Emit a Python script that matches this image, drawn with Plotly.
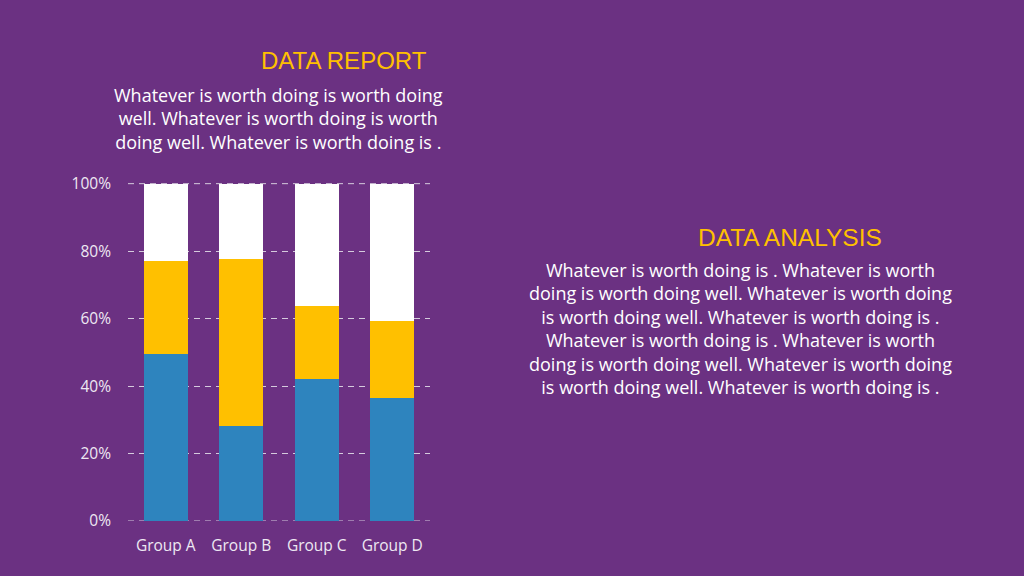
import plotly.graph_objects as go

# chart data (default-style sample values, stacked and normalised to 100%)
groups = ['Group A', 'Group B', 'Group C', 'Group D']
series_1 = [4.3, 2.5, 3.5, 4.5]
series_2 = [2.4, 4.4, 1.8, 2.8]
series_3 = [2.0, 2.0, 3.0, 5.0]

bg = '#6B3182'
grid = '#D5CBDD'
body = 'Whatever is worth doing is worth doing<br>well. Whatever is worth doing is worth<br>doing well. Whatever is worth doing is .'
body2 = ('Whatever is worth doing is . Whatever is worth<br>'
         'doing is worth doing well. Whatever is worth doing<br>'
         'is worth doing well. Whatever is worth doing is .<br>'
         'Whatever is worth doing is . Whatever is worth<br>'
         'doing is worth doing well. Whatever is worth doing<br>'
         'is worth doing well. Whatever is worth doing is .')

# plot area in pixels
L, R, T, B = 128, 430, 183, 521


def px(x, y):
    # page pixels -> paper coords
    return (x - L) / (R - L), (B - y) / (B - T)


fig = go.Figure()
fig.add_trace(go.Bar(x=groups, y=series_1, marker_color='#2E84BE', marker_line_width=0))
fig.add_trace(go.Bar(x=groups, y=series_2, marker_color='#FFC000', marker_line_width=0))
fig.add_trace(go.Bar(x=groups, y=series_3, marker_color='#FFFFFF', marker_line_width=0))

fig.update_layout(
    barmode='stack', barnorm='percent', bargap=0.42,
    width=1024, height=576,
    margin=dict(l=L, r=1024 - R, t=T, b=576 - B),
    paper_bgcolor=bg, plot_bgcolor=bg,
    showlegend=False,
    font=dict(family='Open Sans', color='#EEE8F2', size=15.5),
)
fig.update_yaxes(range=[0, 100.2], tick0=0, dtick=20, ticksuffix='%',
                 showgrid=True, gridcolor=grid, griddash='6px,5px', gridwidth=1,
                 zeroline=False, showline=False, ticks='', ticklabelstandoff=16)
fig.update_xaxes(showgrid=False, showline=False, ticks='', ticklabelstandoff=13)

# grid lines at the 0% and 100% edges
for yv in (0, 100):
    fig.add_shape(type='line', xref='paper', yref='y', x0=0, x1=1, y0=yv, y1=yv,
                  line=dict(color=grid, width=1, dash='6px,5px'), layer='below')

for text, (x, y), fnt in [
    ('DATA REPORT', (344, 61), dict(family='Liberation Sans', size=24, color='#FFC000')),
    (body, (278, 119), dict(family='Open Sans', size=18, color='#FFFFFF')),
    ('DATA ANALYSIS', (790, 237), dict(family='Liberation Sans', size=24.5, color='#FFC000')),
    (body2, (740, 328), dict(family='Open Sans', size=18, color='#FFFFFF')),
]:
    ax, ay = px(x, y)
    fig.add_annotation(text=text, xref='paper', yref='paper', x=ax, y=ay,
                       showarrow=False, xanchor='center', yanchor='middle',
                       align='center', font=fnt)

fig.write_html('out.html', config={'displayModeBar': False},
               post_script="document.body.style.margin='0';")
